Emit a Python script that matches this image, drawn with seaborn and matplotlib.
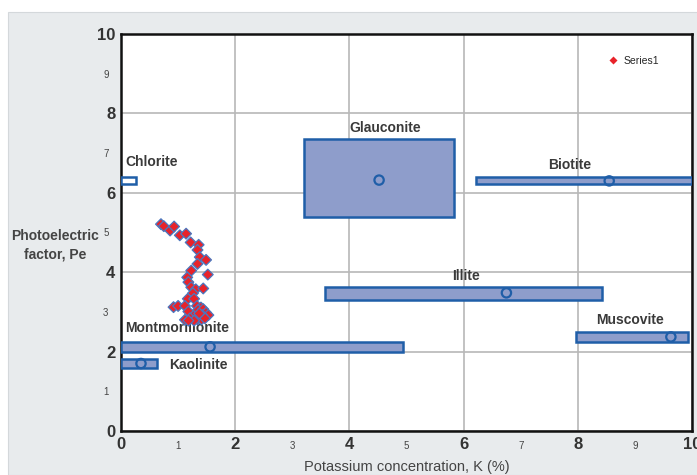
import numpy as np
import pandas as pd
import seaborn as sns
import matplotlib
matplotlib.use("Agg")
import matplotlib.pyplot as plt
from matplotlib.patches import Rectangle

# Mineral ranges (K %, Pe)
minerals = ["Chlorite", "Glauconite", "Biotite", "Illite", "Muscovite", "Montmorillonite", "Kaolinite"]
k_lo = [0.0, 3.2, 6.22, 3.57, 7.97, 0.0, 0.0]
k_hi = [0.27, 5.83, 10.0, 8.42, 9.93, 4.94, 0.63]
pe_lo = [6.22, 5.39, 6.22, 3.30, 2.24, 1.99, 1.59]
pe_hi = [6.40, 7.36, 6.40, 3.63, 2.49, 2.24, 1.81]
center_k = [np.nan, 4.52, 8.55, 6.75, 9.63, 1.56, 0.35]
center_pe = [np.nan, 6.32, 6.30, 3.48, 2.37, 2.12, 1.70]
label_k = [0.54, 4.62, 7.86, 6.04, 8.91, 0.98, 1.35]
label_pe = [6.78, 7.63, 6.70, 3.90, 2.80, 2.60, 1.66]

# Series1 measured points
s1_k = [0.70, 0.75, 0.86, 0.93, 1.03, 1.14, 1.22, 1.36, 1.34, 1.38, 1.49, 1.34, 1.23, 1.52,
        1.16, 1.18, 1.23, 1.31, 1.44, 1.26, 1.17, 1.28, 0.92, 1.00, 1.12, 1.18, 1.33, 1.40,
        1.35, 1.44, 1.49, 1.53, 1.42, 1.27, 1.21, 1.12, 1.34, 1.41, 1.47, 1.28, 1.18, 1.37]
s1_pe = [5.21, 5.16, 5.05, 5.15, 4.93, 4.97, 4.75, 4.69, 4.56, 4.38, 4.31, 4.21, 4.04, 3.94,
         3.87, 3.75, 3.62, 3.57, 3.59, 3.47, 3.33, 3.33, 3.12, 3.15, 3.15, 3.01, 3.15, 3.11,
         3.05, 3.07, 2.98, 2.92, 2.92, 2.90, 2.84, 2.80, 2.81, 2.81, 2.84, 2.78, 2.78, 2.96]

major_ticks = [0, 2, 4, 6, 8, 10]
minor_ticks = [1, 3, 5, 7, 9]

sns.set_theme(style="white")
plt.rcParams["font.family"] = ["Liberation Sans", "DejaVu Sans"]

fig = plt.figure(figsize=(6.97, 4.75), dpi=100)
bg = Rectangle((8 / 697, 0), 1, 1 - 12 / 475, transform=fig.transFigure,
               facecolor="#e8ebed", edgecolor="#d4d8db", lw=0.8, zorder=-10)
fig.add_artist(bg)
ax = fig.add_axes([121 / 697, 1 - 431 / 475, 571 / 697, 397 / 475])
ax.set_zorder(1)
ax.set_facecolor("white")

# mineral boxes
fill = "#8e9dcb"
edge = "#1f5ea8"
for i, name in enumerate(minerals):
    fc = "white" if name == "Chlorite" else fill
    ax.barh(pe_lo[i], k_hi[i] - k_lo[i], height=pe_hi[i] - pe_lo[i], left=k_lo[i],
            align="edge", color=fc, edgecolor=edge, linewidth=1.8, zorder=3)
    ax.text(label_k[i], label_pe[i], name, ha="center", va="center", fontsize=10,
            color="#3a3a3a", fontweight="bold", zorder=5)

centers = pd.DataFrame({"K": center_k, "Pe": center_pe}).dropna()
sns.scatterplot(data=centers, x="K", y="Pe", ax=ax, marker="o", s=45,
                facecolor="none", edgecolor=edge, linewidth=1.6, zorder=4, legend=False)

pts = pd.DataFrame({"K": s1_k, "Pe": s1_pe, "series": "Series1"})
sns.scatterplot(data=pts, x="K", y="Pe", hue="series", palette=["#e8232a"], marker="D",
                s=30, edgecolor="#4a78c0", linewidth=0.9, ax=ax, zorder=6)

ax.set_xlim(0, 10)
ax.set_ylim(0, 10)
ax.set_xticks(major_ticks)
ax.set_yticks(major_ticks)
ax.set_xticks(minor_ticks, minor=True)
ax.set_yticks(minor_ticks, minor=True)
ax.set_xticklabels([str(t) for t in major_ticks], fontsize=12, fontweight="bold", color="#333333")
ax.set_yticklabels([str(t) for t in major_ticks], fontsize=12, fontweight="bold", color="#333333")
ax.set_xticklabels([str(t) for t in minor_ticks], minor=True, fontsize=7, color="#444444")
ax.set_yticklabels([str(t) for t in minor_ticks], minor=True, fontsize=7, color="#444444")
ax.tick_params(axis="both", which="both", length=0)
ax.tick_params(axis="y", which="major", pad=4)
ax.tick_params(axis="y", which="minor", pad=9)
ax.tick_params(axis="x", which="major", pad=4)
ax.tick_params(axis="x", which="minor", pad=7)
ax.grid(True, which="major", color="#b8b8b8", linewidth=1.2, zorder=0)
ax.set_axisbelow(True)
for side in ["left", "bottom", "right", "top"]:
    ax.spines[side].set_visible(True)
    ax.spines[side].set_color("#111111")
    ax.spines[side].set_linewidth(1.8)

ax.set_xlabel("Potassium concentration, K (%)", fontsize=10.5, color="#444444", labelpad=6)
ax.set_ylabel("")
fig.text(55 / 697, 1 - 245 / 475, "Photoelectric\nfactor, Pe", ha="center", va="center",
         fontsize=10, fontweight="bold", color="#444444", linespacing=1.4)

leg = ax.legend(loc="center right", bbox_to_anchor=(0.95, 0.932), frameon=False, fontsize=7.5,
                handletextpad=0.0, markerscale=0.7, borderaxespad=0)
for h in leg.legend_handles:
    h.set_markeredgecolor("none")

fig.savefig("out.png", dpi=100)
